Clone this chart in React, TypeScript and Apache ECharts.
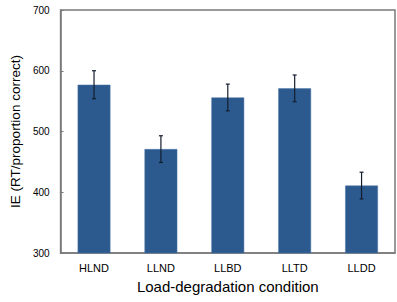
import React, { useEffect, useRef } from "react";
import * as echarts from "echarts";

const categories = ["HLND", "LLND", "LLBD", "LLTD", "LLDD"];
const means = [577, 471, 556, 571, 411];
const errors = [23, 22, 22, 22, 22];
const yTicks = { min: 300, max: 700, interval: 100 };

export default function App() {
  const ref = useRef<HTMLDivElement>(null);
  useEffect(() => {
    if (!ref.current) return;
    const chart = echarts.init(ref.current, undefined, { renderer: "svg" });
    const font = "Liberation Sans, Arial, Helvetica, sans-serif";
    chart.setOption({
      animation: false,
      grid: {
        left: 56,
        right: 2,
        top: 10,
        bottom: 49,
        show: true,
        borderColor: "#7a7a7a",
        borderWidth: 1.5,
        backgroundColor: "transparent",
      },
      xAxis: {
        type: "category",
        data: categories,
        name: "Load-degradation condition",
        nameLocation: "middle",
        nameGap: 26,
        nameTextStyle: { fontFamily: font, fontSize: 15, color: "#000" },
        axisLine: { lineStyle: { color: "#7a7a7a", width: 1.5 } },
        axisTick: { show: false },
        axisLabel: { fontFamily: font, fontSize: 11, color: "#000", margin: 9 },
      },
      yAxis: {
        type: "value",
        min: yTicks.min,
        max: yTicks.max,
        interval: yTicks.interval,
        name: "IE (RT/proportion correct)",
        nameLocation: "middle",
        nameGap: 31,
        nameTextStyle: { fontFamily: font, fontSize: 13.5, color: "#000" },
        axisLine: { show: true, lineStyle: { color: "#7a7a7a", width: 1.5 } },
        axisTick: { show: true, inside: true, length: 3, lineStyle: { color: "#7a7a7a" } },
        splitLine: { show: false },
        axisLabel: { fontFamily: font, fontSize: 10, color: "#000", margin: 11 },
      },
      series: [
        {
          type: "bar",
          data: means,
          barWidth: "49%",
          itemStyle: { color: "#2c5a8f", borderColor: "#4a74a6", borderWidth: 0.5 },
        },
        {
          type: "custom",
          data: means.map((m, i) => [i, m - errors[i], m + errors[i]]),
          z: 10,
          renderItem: (params: any, api: any) => {
            const x = api.value(0);
            const lo = api.coord([x, api.value(1)]);
            const hi = api.coord([x, api.value(2)]);
            const cap = 2;
            const style = { stroke: "#141e2e", lineWidth: 1.2 };
            return {
              type: "group",
              children: [
                { type: "line", shape: { x1: lo[0], y1: lo[1], x2: hi[0], y2: hi[1] }, style },
                { type: "line", shape: { x1: hi[0] - cap, y1: hi[1], x2: hi[0] + cap, y2: hi[1] }, style },
                { type: "line", shape: { x1: lo[0] - cap, y1: lo[1], x2: lo[0] + cap, y2: lo[1] }, style },
              ],
            };
          },
        },
      ],
    });
    return () => chart.dispose();
  }, []);
  return <div ref={ref} style={{ width: 397, height: 302, position: "absolute", left: 0, top: 0 }} />;
}
